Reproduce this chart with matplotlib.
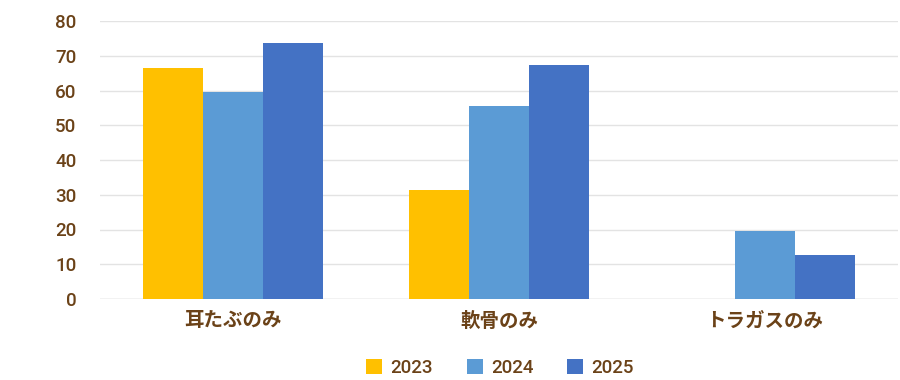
import matplotlib
matplotlib.use("Agg")
import matplotlib.pyplot as plt
import numpy as np

categories = ["耳たぶのみ", "軟骨のみ", "トラガスのみ"]
series_names = ["2023", "2024", "2025"]
v2023 = [66.6, 31.4, np.nan]
v2024 = [59.7, 55.6, 19.6]
v2025 = [73.8, 67.4, 12.7]
yticks = [0, 10, 20, 30, 40, 50, 60, 70, 80]
colors = ["#FFC000", "#5B9BD5", "#4472C4"]
text_color = "#6B4218"

plt.rcParams['font.family'] = ['Noto Sans CJK JP', 'DejaVu Sans']

fig = plt.figure(figsize=(9, 3.8), dpi=100)
ax = fig.add_axes([100/900, 1-299/380, 798/900, 278/380])

x = np.arange(len(categories))
w = 60/266
for i, (vals, name, c) in enumerate(zip([v2023, v2024, v2025], series_names, colors)):
    ax.bar(x + (i-1)*w, vals, width=w, color=c, label=name, zorder=3)

ax.set_xlim(-0.5, len(categories)-0.5)
ax.set_ylim(0, 80)
ax.set_yticks(yticks)
ax.set_xticks(x)
ax.set_xticklabels(categories, fontsize=14, fontweight='bold', color=text_color)
ax.tick_params(axis='y', length=0, pad=17)
ax.tick_params(axis='x', length=0, pad=9)
for lab in ax.get_yticklabels():
    lab.set_fontfamily(['Roboto', 'DejaVu Sans'])
    lab.set_fontweight('medium')
    lab.set_fontsize(13.5)
    lab.set_color(text_color)
ax.grid(axis='y', color='#E3E3E3', linewidth=1, zorder=0)
ax.axhline(0, color='#D4D4D4', linewidth=1, zorder=1)
for s in ax.spines.values():
    s.set_visible(False)

leg = ax.legend(loc='center', bbox_to_anchor=(500/900, 1-368/380), bbox_transform=fig.transFigure,
                ncol=3, frameon=False, handlelength=0.85, handleheight=0.85,
                columnspacing=1.8, handletextpad=0.45,
                prop={'family': ['Roboto', 'DejaVu Sans'], 'weight': 'medium', 'size': 13.5})
for t in leg.get_texts():
    t.set_color(text_color)

fig.savefig("out.png", dpi=100)
